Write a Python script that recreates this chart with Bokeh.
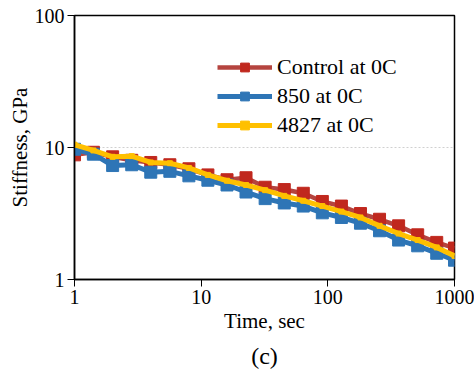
from bokeh.plotting import figure
from bokeh.models import Legend, LegendItem, Title, FixedTicker, NumeralTickFormatter, Range1d
from bokeh.embed import file_html
from bokeh.resources import INLINE

time_sec = [1, 1.41, 2, 2.83, 4, 5.66, 8, 11.3, 16, 22.6, 32, 45.3, 64, 90.5,
            128, 181, 256, 362, 512, 724, 1000]
control_0c = [8.8, 9.2, 8.5, 8.0, 7.7, 7.4, 6.9, 6.2, 5.7, 5.9, 5.0, 4.8, 4.5, 3.9,
              3.6, 3.16, 2.86, 2.55, 2.18, 1.91, 1.73]
s850_0c = [9.7, 8.9, 7.3, 7.4, 6.5, 6.6, 6.1, 5.65, 5.2, 4.6, 4.1, 3.8, 3.6, 3.2,
           2.95, 2.67, 2.34, 1.99, 1.80, 1.58, 1.40]
s4827_0c = [10.5, 9.5, 8.5, 8.6, 7.7, 7.6, 7.0, 6.2, 5.6, 5.2, 4.75, 4.3, 3.95, 3.6,
            3.27, 2.95, 2.55, 2.23, 1.99, 1.75, 1.51]
x_ticks = [1, 10, 100, 1000]
y_ticks = [1, 10, 100]

FONT = "Liberation Serif"

p = figure(width=474, height=377, x_axis_type="log", y_axis_type="log",
           output_backend="svg", toolbar_location=None,
           min_border_left=74, min_border_right=20, min_border_top=15, min_border_bottom=98)
p.x_range = Range1d(1, 1000)
p.y_range = Range1d(1, 100)

p.outline_line_color = "black"
p.outline_line_width = 1.5
p.background_fill_color = "white"
p.border_fill_color = "white"

for ax in (p.xaxis[0], p.yaxis[0]):
    ax.major_label_text_font = FONT
    ax.major_label_text_font_size = "20px"
    ax.major_label_text_color = "black"
    ax.axis_label_text_font = FONT
    ax.axis_label_text_font_size = "21px"
    ax.axis_label_text_font_style = "normal"
    ax.axis_label_text_color = "black"
    ax.minor_tick_line_color = None
    ax.major_tick_in = 0
    ax.major_tick_out = 7
    ax.major_tick_line_color = "black"
    ax.axis_line_color = "black"
    ax.axis_line_width = 1.5
    ax.formatter = NumeralTickFormatter(format="0")

p.xaxis.ticker = FixedTicker(ticks=x_ticks)
p.yaxis.ticker = FixedTicker(ticks=y_ticks)
p.xaxis.axis_label = "Time, sec"
p.yaxis.axis_label = "Stiffness, GPa"
p.xaxis.major_label_standoff = 3
p.yaxis.major_label_standoff = 3
p.xaxis.axis_label_standoff = 2
p.yaxis.axis_label_standoff = 0

p.xgrid.grid_line_color = None
p.ygrid.grid_line_color = "#D0D0D0"
p.ygrid.grid_line_dash = "2 2"
p.ygrid.grid_line_width = 1

r1 = p.line(time_sec, control_0c, line_color="#B5443F", line_width=4.5)
m1 = p.scatter(time_sec, control_0c, marker="square", size=12, fill_color="#C0281E",
               line_color="#C0281E")
r2 = p.line(time_sec, s850_0c, line_color="#2E75B6", line_width=5)
m2 = p.scatter(time_sec, s850_0c, marker="square", size=12, fill_color="#2E75B6",
               line_color="#2E75B6")
r3 = p.line(time_sec, s4827_0c, line_color="#FFC000", line_width=5)
m3 = p.scatter(time_sec, s4827_0c, marker="square", size=5, fill_color="#FFC000",
               line_color="#FFC000")

legend = Legend(items=[
    LegendItem(label="Control at 0C", renderers=[r1, m1]),
    LegendItem(label="850 at 0C", renderers=[r2, m2]),
    LegendItem(label="4827 at 0C", renderers=[r3, m3]),
], location=(143, 141))
legend.glyph_width = 55
legend.glyph_height = 22
legend.label_height = 22
legend.spacing = 3
legend.padding = 0
legend.margin = 0
legend.label_standoff = 5
legend.label_text_font = FONT
legend.label_text_font_size = "22px"
legend.label_text_color = "black"
legend.border_line_color = None
legend.background_fill_alpha = 0
p.add_layout(legend, "center")

cap = Title(text="(c)", align="center", text_font=FONT, text_font_size="24px",
            text_font_style="normal", text_color="black")
p.add_layout(cap, "below")

open("out.html", "w").write(file_html(p, INLINE))
